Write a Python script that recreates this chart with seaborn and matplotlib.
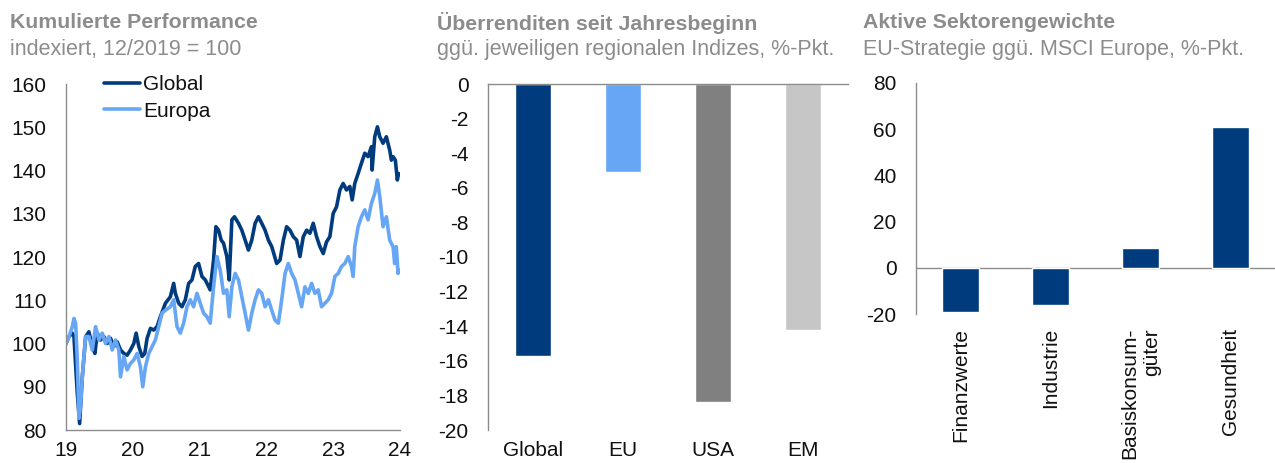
import matplotlib
matplotlib.use("Agg")
import matplotlib.pyplot as plt
import seaborn as sns
import pandas as pd

# ---------------- data ----------------
global_t = [19.000, 19.045, 19.095, 19.119, 19.169, 19.204, 19.244, 19.294, 19.343, 19.393,
            19.433, 19.468, 19.517, 19.567, 19.617, 19.667, 19.716, 19.766, 19.816, 19.866,
            19.915, 19.965, 20.015, 20.050, 20.090, 20.139, 20.179, 20.214, 20.264, 20.313,
            20.363, 20.413, 20.488, 20.562, 20.612, 20.637, 20.687, 20.736, 20.786, 20.836,
            20.886, 20.935, 20.985, 21.035, 21.085, 21.159, 21.209, 21.244, 21.284, 21.323,
            21.358, 21.408, 21.443, 21.483, 21.522, 21.582, 21.632, 21.682, 21.731, 21.781,
            21.831, 21.881, 21.930, 21.980, 22.030, 22.080, 22.154, 22.204, 22.254, 22.303,
            22.353, 22.403, 22.453, 22.502, 22.552, 22.602, 22.652, 22.701, 22.751, 22.801,
            22.851, 22.900, 22.950, 23.000, 23.050, 23.100, 23.149, 23.199, 23.249, 23.284,
            23.323, 23.373, 23.423, 23.473, 23.522, 23.572, 23.582, 23.622, 23.662, 23.697,
            23.746, 23.796, 23.846, 23.871, 23.896, 23.930, 23.960, 23.980]
global_v = [100.0, 101.6, 102.4, 101.6, 88.5, 81.5, 92.3, 101.6, 102.7, 99.3,
            97.7, 102.4, 100.8, 101.6, 100.0, 101.2, 99.3, 100.4, 98.5, 97.7,
            97.3, 98.5, 100.0, 102.4, 99.3, 97.0, 97.7, 101.2, 103.5, 103.1,
            103.9, 106.2, 109.3, 110.8, 113.9, 111.6, 109.3, 108.5, 110.1, 113.9,
            114.7, 117.8, 118.5, 115.5, 114.7, 112.4, 119.3, 127.0, 126.2, 123.9,
            123.2, 120.1, 114.7, 128.6, 129.3, 127.8, 126.2, 123.9, 121.6, 123.9,
            127.8, 129.3, 127.8, 126.2, 123.9, 122.4, 118.5, 119.3, 123.9, 127.0,
            126.2, 124.7, 123.9, 120.1, 124.7, 126.2, 125.5, 127.8, 124.7, 122.4,
            120.8, 123.5, 124.7, 130.1, 131.6, 135.5, 137.0, 135.5, 136.3, 133.2,
            137.0, 139.3, 141.7, 144.0, 143.2, 145.5, 140.1, 147.8, 150.1, 147.8,
            146.3, 147.8, 144.7, 142.4, 143.2, 142.4, 137.8, 139.3]

europa_t = [19.000, 19.045, 19.095, 19.119, 19.144, 19.169, 19.194, 19.219, 19.244, 19.294,
            19.343, 19.393, 19.443, 19.493, 19.542, 19.592, 19.642, 19.692, 19.741, 19.791,
            19.816, 19.866, 19.915, 19.965, 20.015, 20.065, 20.114, 20.149, 20.189, 20.239,
            20.289, 20.338, 20.388, 20.438, 20.488, 20.562, 20.612, 20.662, 20.711, 20.761,
            20.811, 20.861, 20.910, 20.960, 21.010, 21.060, 21.109, 21.159, 21.209, 21.259,
            21.308, 21.358, 21.408, 21.443, 21.483, 21.532, 21.582, 21.632, 21.682, 21.731,
            21.781, 21.831, 21.881, 21.930, 21.980, 22.030, 22.080, 22.129, 22.179, 22.229,
            22.279, 22.328, 22.378, 22.428, 22.478, 22.527, 22.577, 22.627, 22.677, 22.726,
            22.776, 22.826, 22.876, 22.925, 22.975, 23.025, 23.075, 23.124, 23.174, 23.224,
            23.274, 23.299, 23.323, 23.373, 23.423, 23.473, 23.522, 23.572, 23.622, 23.662,
            23.697, 23.746, 23.796, 23.846, 23.896, 23.920, 23.945, 23.970, 23.980]
europa_v = [100.0, 101.6, 103.9, 105.8, 104.7, 96.2, 82.7, 85.4, 92.3, 101.6,
            101.6, 98.5, 103.9, 100.8, 102.4, 100.0, 101.6, 98.5, 100.8, 98.5,
            92.3, 97.0, 93.9, 95.4, 96.2, 97.7, 94.6, 90.0, 94.6, 97.7,
            99.3, 100.8, 103.9, 107.0, 107.7, 108.5, 110.1, 103.9, 102.4, 104.7,
            108.5, 110.1, 108.5, 111.6, 109.3, 107.0, 106.2, 104.7, 113.1, 120.1,
            117.0, 111.6, 112.4, 106.2, 113.1, 116.2, 114.7, 110.8, 107.0, 103.1,
            107.0, 110.1, 112.4, 111.6, 108.5, 110.1, 107.7, 105.4, 104.7, 110.1,
            116.2, 118.5, 116.2, 114.7, 111.6, 108.5, 113.1, 111.6, 113.9, 111.6,
            112.4, 108.5, 109.3, 110.1, 111.6, 115.5, 116.2, 117.8, 118.5, 120.1,
            117.8, 115.5, 122.4, 127.0, 129.3, 130.9, 128.6, 132.4, 134.7, 137.8,
            134.0, 127.0, 129.3, 123.9, 122.4, 118.5, 122.4, 116.2, 117.0]

year_ticks = [19, 20, 21, 22, 23, 24]
year_labels = ["19", "20", "21", "22", "23", "24"]

regions = ["Global", "EU", "USA", "EM"]
excess_returns = [-15.7, -5.1, -18.4, -14.2]

sectors = ["Finanzwerte", "Industrie", "Basiskonsum-\ngüter", "Gesundheit"]
sector_weights = [-19.0, -15.9, 8.6, 61.0]

# ---------------- style ----------------
sns.set_style("white")
plt.rcParams["font.family"] = ["Liberation Sans", "DejaVu Sans"]
plt.rcParams["axes.unicode_minus"] = False

DARK = "#003C7D"
LIGHT = "#66A6F5"
GREY = "#808080"
LGREY = "#C6C6C6"
TITLE_C = "#8C8C8C"
SPINE_C = "#8C8C8C"
TXT = "#111111"
FS = 15
LW = 2.6

W, H = 1275, 463
fig = plt.figure(figsize=(W / 100, H / 100), dpi=100)


def fx(px):
    return px / W


def fy(py):
    return 1 - py / H


# titles
for x0, t1, t2 in [(10, "Kumulierte Performance", "indexiert, 12/2019 = 100"),
                   (437, "Überrenditen seit Jahresbeginn", "ggü. jeweiligen regionalen Indizes, %-Pkt."),
                   (863, "Aktive Sektorengewichte", "EU-Strategie ggü. MSCI Europe, %-Pkt.")]:
    fig.text(fx(x0), fy(23), t1, fontsize=15.3, fontweight="bold", color=TITLE_C, va="center", ha="left")
    fig.text(fx(x0), fy(49), t2, fontsize=15.5, color=TITLE_C, va="center", ha="left")

# ---------- chart 1: lines ----------
ax1 = fig.add_axes([fx(66), fy(430), fx(400 - 66), (430 - 84) / H])
df_line = pd.concat([
    pd.DataFrame({"t": global_t, "v": global_v, "Serie": "Global"}),
    pd.DataFrame({"t": europa_t, "v": europa_v, "Serie": "Europa"}),
])
sns.lineplot(data=df_line, x="t", y="v", hue="Serie", palette={"Global": DARK, "Europa": LIGHT},
             estimator=None, sort=False, linewidth=LW, ax=ax1)
ax1.set_xlim(19, 24)
ax1.set_ylim(80, 160)
ax1.set_yticks(range(80, 161, 10))
ax1.set_xticks(year_ticks)
ax1.set_xticklabels(year_labels)
ax1.set_xlabel("")
ax1.set_ylabel("")
for s in ["top", "right"]:
    ax1.spines[s].set_visible(False)
for s in ["left", "bottom"]:
    ax1.spines[s].set_color(SPINE_C)
    ax1.spines[s].set_linewidth(1)
ax1.tick_params(axis="both", length=0, labelsize=FS, colors=TXT)
ax1.tick_params(axis="y", pad=14)
ax1.tick_params(axis="x", pad=8)
leg = ax1.legend(loc="upper left", bbox_to_anchor=(0.115, 1.025), frameon=False, fontsize=FS,
                 handlelength=1.7, handletextpad=0.15, labelspacing=0.35, borderpad=0, borderaxespad=0)
for line in leg.get_lines():
    line.set_linewidth(LW)
for t in leg.get_texts():
    t.set_color(TXT)

# ---------- chart 2: bars ----------
ax2 = fig.add_axes([fx(488), fy(430), fx(848 - 488), (430 - 84) / H])
df2 = pd.DataFrame({"region": regions, "val": excess_returns})
sns.barplot(data=df2, x="region", y="val", hue="region",
            palette=[DARK, LIGHT, GREY, LGREY], width=0.41, saturation=1, legend=False, ax=ax2)
ax2.set_ylim(-20, 0)
ax2.set_xlim(-0.5, 3.5)
ax2.set_yticks(range(-20, 1, 2))
ax2.set_xlabel("")
ax2.set_ylabel("")
for s in ["bottom", "right"]:
    ax2.spines[s].set_visible(False)
for s in ["left", "top"]:
    ax2.spines[s].set_color(SPINE_C)
    ax2.spines[s].set_linewidth(1)
ax2.tick_params(axis="both", length=0, labelsize=FS, colors=TXT)
ax2.tick_params(axis="y", pad=14)
ax2.tick_params(axis="x", pad=8)

# ---------- chart 3: bars ----------
ax3 = fig.add_axes([fx(916), fy(314), fx(1275 - 916), (314 - 83) / H])
df3 = pd.DataFrame({"sector": sectors, "val": sector_weights})
sns.barplot(data=df3, x="sector", y="val", color=DARK, width=0.41, saturation=1, ax=ax3)
ax3.set_ylim(-20, 80)
ax3.set_xlim(-0.5, 3.5)
ax3.set_yticks(range(-20, 81, 20))
ax3.set_xlabel("")
ax3.set_ylabel("")
ax3.axhline(0, color=SPINE_C, linewidth=1, zorder=0)
for s in ["bottom", "right", "top"]:
    ax3.spines[s].set_visible(False)
ax3.spines["left"].set_color(SPINE_C)
ax3.spines["left"].set_linewidth(1)
ax3.tick_params(axis="both", length=0, labelsize=FS, colors=TXT)
ax3.tick_params(axis="y", pad=14)
ax3.tick_params(axis="x", pad=10)
for lab in ax3.get_xticklabels():
    lab.set_rotation(90)
    lab.set_va("top")
    lab.set_ha("center")
    lab.set_multialignment("right")

fig.savefig("out.png", dpi=100)
